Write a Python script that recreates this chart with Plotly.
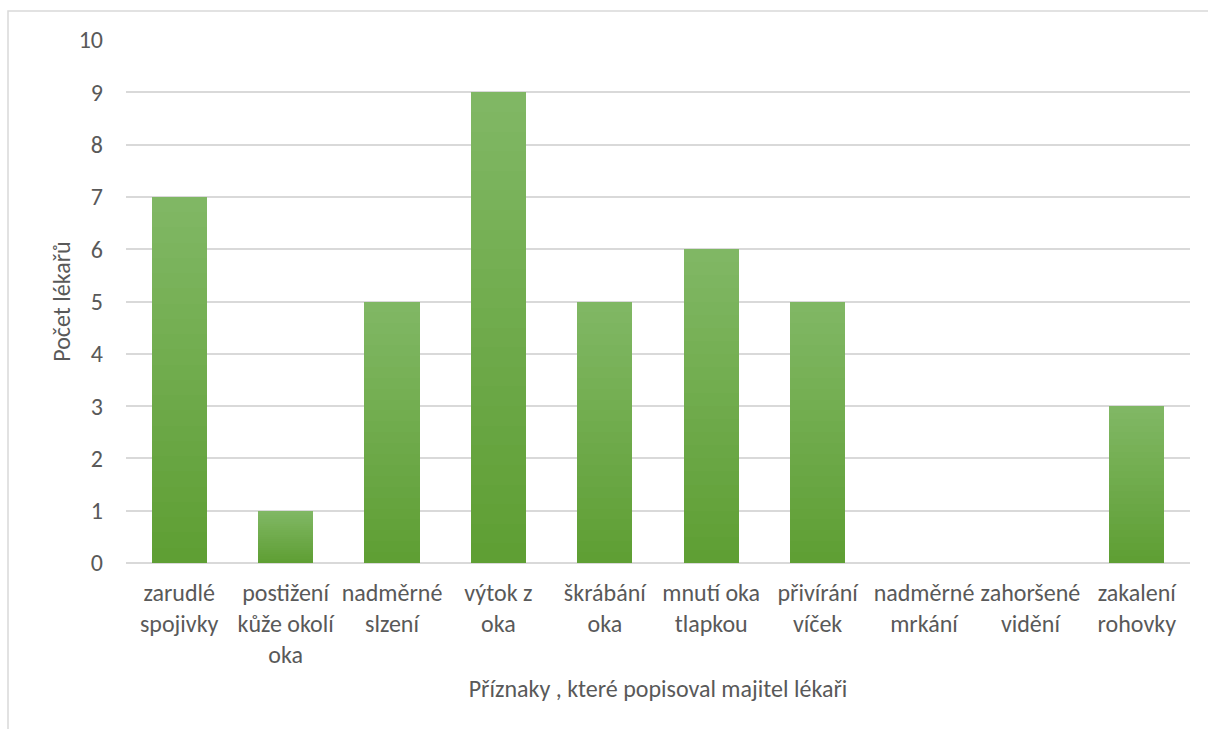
import plotly.graph_objects as go

# Symptoms reported by owners to the vet, and how many vets heard each one
categories = [
    "zarudlé spojivky",
    "postižení kůže okolí oka",
    "nadměrné slzení",
    "výtok z oka",
    "škrábání oka",
    "mnutí oka tlapkou",
    "přivírání víček",
    "nadměrné mrkání",
    "zahoršené vidění",
    "zakalení rohovky",
]
tick_labels = [
    "zarudlé<br>spojivky",
    "postižení<br>kůže okolí<br>oka",
    "nadměrné<br>slzení",
    "výtok z<br>oka",
    "škrábání<br>oka",
    "mnutí oka<br>tlapkou",
    "přivírání<br>víček",
    "nadměrné<br>mrkání",
    "zahoršené<br>vidění",
    "zakalení<br>rohovky",
]
counts = [7, 1, 5, 9, 5, 6, 5, 0, 0, 3]
y_ticks = list(range(0, 11))

W, H = 1208, 729
M = dict(l=126, r=18, t=40, b=166)
FONT = "Carlito, Calibri, Lato, sans-serif"
FS = 24
TEXT = "#595959"
GRID = "#d9d9d9"

# Vertical gradient on each bar: stack thin slices, each a fixed share of the bar
STEPS = 24
bottom_rgb = (0x5e, 0x9e, 0x33)
top_rgb = (0x81, 0xb8, 0x65)


def mix(a, b, t):
    return "rgb({},{},{})".format(*[round(a[i] + (b[i] - a[i]) * t) for i in range(3)])


fig = go.Figure()
for k in range(STEPS):
    t = (k + 0.5) / STEPS
    fig.add_trace(
        go.Bar(
            x=categories,
            y=[v / STEPS for v in counts],
            marker=dict(color=mix(bottom_rgb, top_rgb, t), line=dict(width=0)),
            hoverinfo="skip",
            showlegend=False,
        )
    )

# Chart frame (light grey rectangle around the whole chart)
pw = W - M["l"] - M["r"]
ph = H - M["t"] - M["b"]
fig.add_shape(
    type="rect",
    xref="paper", yref="paper",
    x0=(8 - M["l"]) / pw, x1=(W + 5 - M["l"]) / pw,
    y0=-(H + 5 - ph - M["t"]) / ph, y1=1 + (M["t"] - 11) / ph,
    line=dict(color="#d9d9d9", width=1.5),
    fillcolor="rgba(0,0,0,0)",
    layer="below",
)

fig.update_layout(
    width=W,
    height=H,
    margin=M,
    barmode="stack",
    bargap=0.48,
    plot_bgcolor="white",
    paper_bgcolor="white",
    font=dict(family=FONT, size=FS, color=TEXT),
    xaxis=dict(
        tickmode="array",
        tickvals=categories,
        ticktext=tick_labels,
        showgrid=False,
        showline=False,
        ticks="",
        ticklabelstandoff=13,
        tickfont=dict(size=FS, color=TEXT),
        title=dict(
            text="Příznaky , které popisoval majitel lékaři",
            font=dict(size=FS, color=TEXT),
            standoff=11,
        ),
    ),
    yaxis=dict(
        range=[0, 10],
        tickmode="array",
        tickvals=y_ticks,
        showgrid=True,
        gridcolor=GRID,
        gridwidth=1.5,
        zeroline=True,
        zerolinecolor=GRID,
        zerolinewidth=1.5,
        showline=False,
        ticks="",
        ticklabelstandoff=22,
        tickfont=dict(size=FS, color=TEXT),
        title=dict(text="Počet lékařů", font=dict(size=FS, color=TEXT), standoff=1),
    ),
)

fig.write_html("out.html")
